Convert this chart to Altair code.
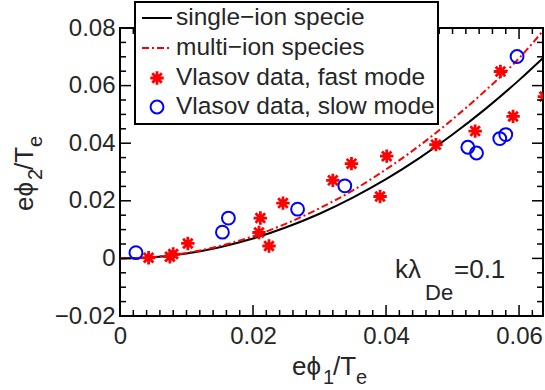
import altair as alt
import pandas as pd

# ---------------- data ----------------
curve_x = [0, 0.005, 0.01, 0.015, 0.02, 0.025, 0.03, 0.035, 0.04, 0.045, 0.05, 0.055, 0.06, 0.0636]
single_y = [0, 0.0004, 0.0017, 0.0039, 0.0069, 0.0108, 0.0155, 0.0211, 0.0275, 0.0348, 0.0430, 0.0520, 0.0619, 0.0696]
multi_y = [0, 0.0005, 0.0019, 0.0043, 0.0077, 0.0121, 0.0174, 0.0236, 0.0309, 0.0391, 0.0483, 0.0584, 0.0695, 0.0790]

fast_x = [0.0043, 0.0075, 0.0080, 0.0102, 0.0209, 0.0211, 0.0224, 0.0245, 0.0320, 0.0348,
          0.0391, 0.0401, 0.0475, 0.0534, 0.0572, 0.0591, 0.0638]
fast_y = [0.0002, 0.0006, 0.0015, 0.0052, 0.0090, 0.0140, 0.0043, 0.0192, 0.0271, 0.0329,
          0.0215, 0.0355, 0.0395, 0.0442, 0.0649, 0.0493, 0.0562]

slow_x = [0.0024, 0.0154, 0.0163, 0.0267, 0.0338, 0.0523, 0.0536, 0.0571, 0.0580, 0.0597]
slow_y = [0.0020, 0.0091, 0.0140, 0.0171, 0.0252, 0.0386, 0.0366, 0.0416, 0.0430, 0.0701]

legend_labels = ["single\u2212ion specie", "multi\u2212ion species",
                 "Vlasov data, fast mode", "Vlasov data, slow mode"]

x_major = [0, 0.02, 0.04, 0.06]
x_minor = [0.002, 0.004, 0.006, 0.008, 0.01, 0.012, 0.014, 0.016, 0.018,
           0.022, 0.024, 0.026, 0.028, 0.03, 0.032, 0.034, 0.036, 0.038,
           0.042, 0.044, 0.046, 0.048, 0.05, 0.052, 0.054, 0.056, 0.058, 0.062]
y_major = [-0.02, 0, 0.02, 0.04, 0.06, 0.08]
y_minor = [-0.015, -0.01, -0.005, 0.005, 0.01, 0.015, 0.025, 0.03, 0.035,
           0.045, 0.05, 0.055, 0.065, 0.07, 0.075]

# ---------------- styling ----------------
W, H = 423, 288
FONT = "Liberation Sans"
TXT = "#262626"
FS = 24
FS_T = 26
FS_SUB = 20
PHI = "\u03d5"
ASTERISK = "M-1,0L1,0M0,-1L0,1M-0.71,-0.71L0.71,0.71M-0.71,0.71L0.71,-0.71"

xs = alt.Scale(domain=[0, 0.0636], nice=False, zero=False)
ys = alt.Scale(domain=[-0.02, 0.08], nice=False, zero=False)

lab_expr = "datum.value == 0 ? '0' : replace(format(datum.value, '.2f'), '-', '\u2212')"
xaxis = alt.Axis(values=x_major, title=None, ticks=False, domain=False, grid=False,
                 labelFont=FONT, labelFontSize=FS, labelColor=TXT, labelPadding=8,
                 labelFlush=False, labelOverlap=False, labelExpr=lab_expr)
yaxis = alt.Axis(values=y_major, title=None, ticks=False, domain=False, grid=False,
                 labelFont=FONT, labelFontSize=FS, labelColor=TXT, labelPadding=5,
                 labelOverlap=False, labelExpr=lab_expr)

curve_df = pd.DataFrame({"x": curve_x, "single": single_y, "multi": multi_y})
fast_df = pd.DataFrame({"x": fast_x, "y": fast_y})
slow_df = pd.DataFrame({"x": slow_x, "y": slow_y})

X = alt.X("x:Q", scale=xs, axis=xaxis)
single_line = alt.Chart(curve_df).mark_line(color="black", strokeWidth=2, interpolate="monotone").encode(
    x=X, y=alt.Y("single:Q", scale=ys, axis=yaxis))
multi_line = alt.Chart(curve_df).mark_line(color="#ff0000", strokeWidth=2, strokeDash=[7, 3, 2, 3],
                                           interpolate="monotone").encode(
    x=X, y=alt.Y("multi:Q", scale=ys, axis=yaxis))
fast_pts = alt.Chart(fast_df).mark_point(shape=ASTERISK, size=180, filled=False, color="#ff0000",
                                          strokeWidth=2.8, opacity=1, clip=True).encode(
    x=X, y=alt.Y("y:Q", scale=ys, axis=yaxis))
slow_pts = alt.Chart(slow_df).mark_point(shape="circle", size=165, filled=False, color="#0000ff",
                                          strokeWidth=2, opacity=1, clip=True).encode(
    x=X, y=alt.Y("y:Q", scale=ys, axis=yaxis))

# inward ticks (MATLAB style) drawn through the scales
def xticks(vals, length):
    d = pd.DataFrame({"x": vals})
    b = alt.Chart(d).mark_rule(color="black", strokeWidth=1.5)
    bot = b.encode(x=X, y=alt.value(H), y2=alt.value(H - length))
    top = b.encode(x=X, y=alt.value(0), y2=alt.value(length))
    return [bot, top]

def yticks(vals, length):
    d = pd.DataFrame({"y": vals})
    b = alt.Chart(d).mark_rule(color="black", strokeWidth=1.5)
    Y = alt.Y("y:Q", scale=ys, axis=yaxis)
    lef = b.encode(y=Y, x=alt.value(0), x2=alt.value(length))
    rig = b.encode(y=Y, x=alt.value(W), x2=alt.value(W - length))
    return [lef, rig]

tick_layers = xticks(x_major, 11) + xticks(x_minor, 6) + yticks(y_major, 11) + yticks(y_minor, 6)

# text helper
def txt(s, x, y, size=FS_T, angle=0, align="left"):
    return alt.Chart(pd.DataFrame({"t": [s]})).mark_text(
        text=s, font=FONT, fontSize=size, color=TXT, align=align, baseline="alphabetic",
        angle=angle).encode(x=alt.value(x), y=alt.value(y))

# x title: e phi_1 / T_e
xt_base, xt_sub = 347, 356
x0 = 172
xtitle = [txt("e" + PHI, x0, xt_base), txt("1", x0 + 31, xt_sub, FS_SUB),
          txt("/T", x0 + 41, xt_base), txt("e", x0 + 64, xt_sub, FS_SUB)]

# y title (rotated)
yt_base, yt_sub = -87, -78
y0 = 183
ytitle = [txt("e" + PHI, yt_base, y0, angle=270), txt("2", yt_sub, y0 - 31, FS_SUB, angle=270),
          txt("/T", yt_base, y0 - 41, angle=270), txt("e", yt_sub, y0 - 64, FS_SUB, angle=270)]

# annotation k lambda_De = 0.1
ann = [txt("k\u03bb", 275, 250), txt("De", 305, 272, 22), txt("=0.1", 334, 250)]

# legend
one = pd.DataFrame({"a": [0]})
box = alt.Chart(one).mark_rect(fill="white", stroke="black", strokeWidth=2).encode(
    x=alt.value(15), x2=alt.value(318), y=alt.value(-26), y2=alt.value(96))
rows = [-10, 20, 50, 79]
leg = [box]
leg.append(alt.Chart(one).mark_rule(color="black", strokeWidth=2).encode(
    x=alt.value(22), x2=alt.value(52), y=alt.value(rows[0])))
leg.append(alt.Chart(one).mark_rule(color="#ff0000", strokeWidth=2, strokeDash=[7, 3, 2, 3]).encode(
    x=alt.value(22), x2=alt.value(52), y=alt.value(rows[1])))
leg.append(alt.Chart(one).mark_point(shape=ASTERISK, size=180, filled=False, color="#ff0000",
                                     strokeWidth=2.8, opacity=1).encode(x=alt.value(37), y=alt.value(rows[2])))
leg.append(alt.Chart(one).mark_point(shape="circle", size=165, filled=False, color="#0000ff",
                                     strokeWidth=2, opacity=1).encode(x=alt.value(37), y=alt.value(rows[3])))
for lab, r in zip(legend_labels, rows):
    leg.append(alt.Chart(one).mark_text(text=lab, font=FONT, fontSize=24.5, color=TXT, align="left",
                                        baseline="middle").encode(x=alt.value(56), y=alt.value(r)))

chart = alt.layer(single_line, multi_line, fast_pts, slow_pts, *tick_layers,
                  *xtitle, *ytitle, *ann, *leg).properties(
    width=W, height=H, autosize="none",
    padding={"left": 120, "top": 28, "right": 2, "bottom": 74},
).configure_view(stroke="black", strokeWidth=2)

chart.save("out.html", embed_options={"renderer": "svg", "actions": False})
